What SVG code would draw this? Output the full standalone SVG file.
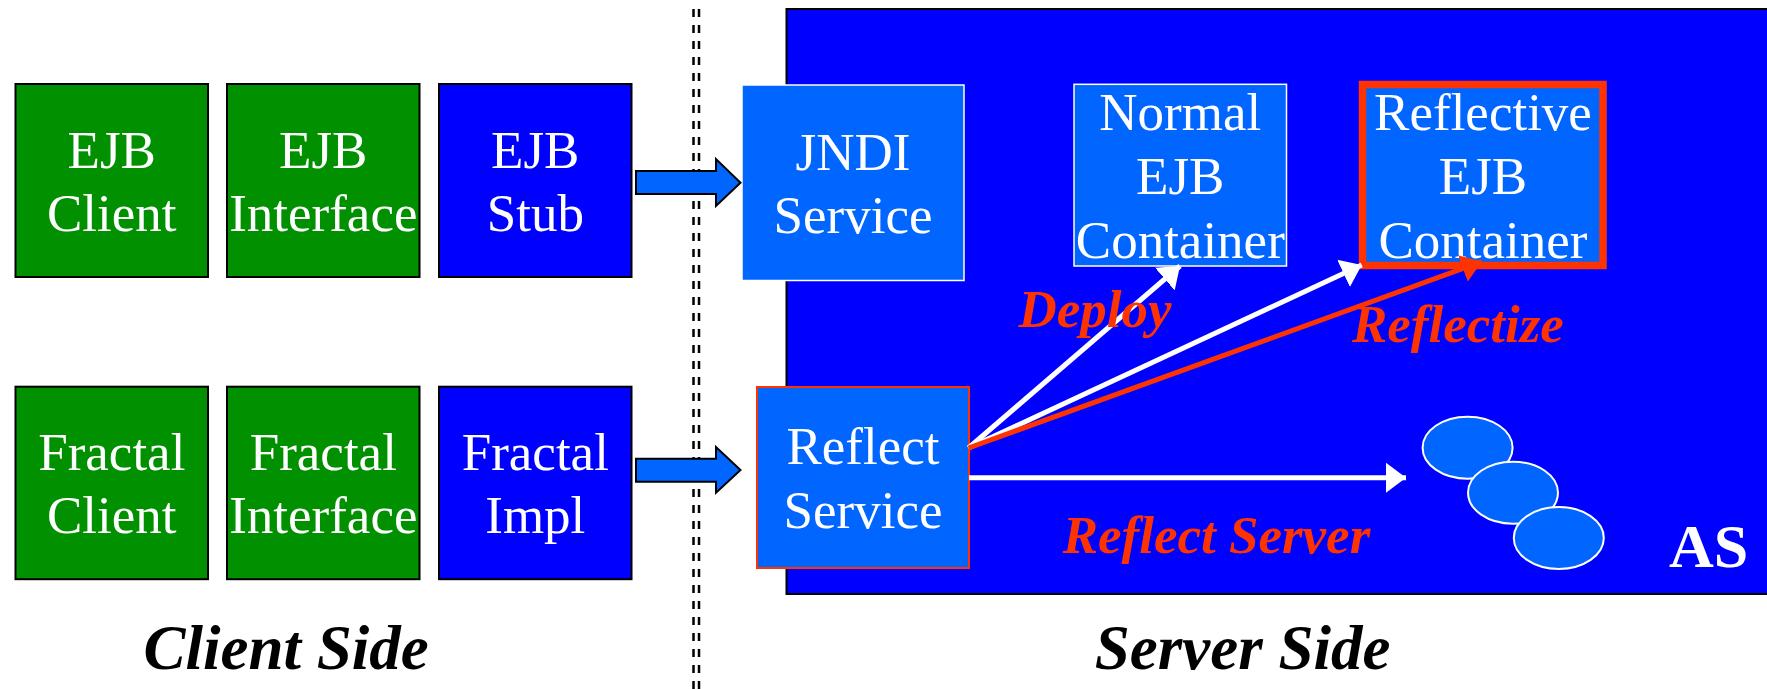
<svg xmlns="http://www.w3.org/2000/svg" width="1767" height="689" viewBox="0 0 1767 689">
  <style>
    .green { fill: #009000; stroke: #000; stroke-width: 2; }
    .blue { fill: #0000FF; stroke: #000; stroke-width: 2; }
    .light { fill: #0066FF; stroke: #FFFFFF; stroke-width: 1.5; }
    .lbl { font-family: "Liberation Serif", "Times New Roman", serif; font-size: 53px; fill: #FFFFFF; text-anchor: middle; }
    .tag { font-family: "Liberation Serif", "Times New Roman", serif; font-size: 53px; font-weight: bold; font-style: italic; fill: #FF3300; }
    .side { font-family: "Liberation Serif", "Times New Roman", serif; font-size: 63px; font-weight: bold; font-style: italic; fill: #000; }
    .wline { stroke: #FFFFFF; stroke-width: 5; fill: none; }
    .rline { stroke: #FF3300; stroke-width: 5; fill: none; }
    .block { fill: #0066FF; stroke: #000; stroke-width: 2; stroke-linejoin: miter; }
  </style>
  <defs>
    <marker id="headW" markerUnits="userSpaceOnUse" markerWidth="22" markerHeight="32" viewBox="0 -16 22 32" refX="20" refY="0" orient="auto">
      <path d="M0,-15 L20,0 L0,15 Z" fill="#FFFFFF"/>
    </marker>
    <marker id="headR" markerUnits="userSpaceOnUse" markerWidth="22" markerHeight="32" viewBox="0 -16 22 32" refX="20" refY="0" orient="auto">
      <path d="M0,-14 L20,0 L0,14 Z" fill="#FF3300"/>
    </marker>
  </defs>

  <!-- client / server divider -->
  <g id="divider" stroke="#000" stroke-width="2.5" stroke-dasharray="8 8">
    <line x1="693.5" y1="9" x2="693.5" y2="689"/>
    <line x1="699" y1="9" x2="699" y2="689"/>
  </g>

  <!-- application server area -->
  <g id="as">
    <rect x="786.5" y="9" width="990" height="585" class="blue"/>
    <text x="1669" y="567" font-family="Liberation Serif, Times New Roman, serif" font-size="62" font-weight="bold" fill="#FFFFFF">AS</text>
  </g>

  <!-- client side -->
  <g id="ejb-client">
    <rect x="15.5" y="84" width="192.5" height="193" class="green"/>
    <text class="lbl" x="111.8"><tspan x="111.8" y="167.7">EJB</tspan><tspan x="111.8" y="231">Client</tspan></text>
  </g>
  <g id="ejb-interface">
    <rect x="227" y="84" width="192.5" height="193" class="green"/>
    <text class="lbl" x="323.3"><tspan x="323.3" y="167.7">EJB</tspan><tspan x="323.3" y="231">Interface</tspan></text>
  </g>
  <g id="ejb-stub">
    <rect x="439" y="84" width="192.5" height="193" class="blue"/>
    <text class="lbl" x="535.3"><tspan x="535.3" y="167.7">EJB</tspan><tspan x="535.3" y="231">Stub</tspan></text>
  </g>
  <g id="fractal-client">
    <rect x="15.5" y="386.7" width="192.5" height="192.5" class="green"/>
    <text class="lbl" x="111.8"><tspan x="111.8" y="470">Fractal</tspan><tspan x="111.8" y="533.3">Client</tspan></text>
  </g>
  <g id="fractal-interface">
    <rect x="227" y="386.7" width="192.5" height="192.5" class="green"/>
    <text class="lbl" x="323.3"><tspan x="323.3" y="470">Fractal</tspan><tspan x="323.3" y="533.3">Interface</tspan></text>
  </g>
  <g id="fractal-impl">
    <rect x="439" y="386.7" width="192.5" height="192.5" class="blue"/>
    <text class="lbl" x="535.3"><tspan x="535.3" y="470">Fractal</tspan><tspan x="535.3" y="533.3">Impl</tspan></text>
  </g>

  <!-- server side -->
  <g id="jndi-service">
    <rect x="742" y="85" width="222" height="195.5" class="light"/>
    <text class="lbl" x="853"><tspan x="853" y="170">JNDI</tspan><tspan x="853" y="233">Service</tspan></text>
  </g>
  <g id="normal-container">
    <rect x="1074" y="84.3" width="212.5" height="181.7" class="light"/>
    <text class="lbl" x="1180.3"><tspan x="1180.3" y="130">Normal</tspan><tspan x="1180.3" y="194">EJB</tspan><tspan x="1180.3" y="258">Container</tspan></text>
  </g>
  <g id="reflective-container">
    <rect x="1362.5" y="84.5" width="240.5" height="181" fill="#0066FF" stroke="#FF3300" stroke-width="7.5"/>
    <text class="lbl" x="1483"><tspan x="1483" y="130">Reflective</tspan><tspan x="1483" y="194">EJB</tspan><tspan x="1483" y="258">Container</tspan></text>
  </g>
  <g id="reflect-service">
    <rect x="757" y="387" width="212" height="181" fill="#0066FF" stroke="#FF3300" stroke-width="2"/>
    <text class="lbl" x="863"><tspan x="863" y="464">Reflect</tspan><tspan x="863" y="528.3">Service</tspan></text>
  </g>
  <g id="server-instances" fill="#0066FF" stroke="#FFFFFF" stroke-width="2">
    <ellipse cx="1467.6" cy="447.7" rx="45" ry="31"/>
    <ellipse cx="1513" cy="492.7" rx="45" ry="31"/>
    <ellipse cx="1558.8" cy="538" rx="45" ry="31"/>
  </g>

  <!-- connectors -->
  <g id="connectors">
    <path class="block" d="M636,171 L716,171 L716,159 L740.5,182.7 L716,206 L716,194 L636,194 Z"/>
    <path class="block" d="M636,458.7 L716,458.7 L716,447 L740.5,470 L716,492.7 L716,481.7 L636,481.7 Z"/>
    <line class="wline" x1="968.5" y1="448" x2="1180" y2="266" marker-end="url(#headW)"/>
    <line class="wline" x1="968.5" y1="448" x2="1361.7" y2="265" marker-end="url(#headW)"/>
    <line class="rline" x1="968.5" y1="448" x2="1481.7" y2="261.7" marker-end="url(#headR)"/>
    <line class="wline" x1="969" y1="477.7" x2="1406" y2="477.7" marker-end="url(#headW)"/>
  </g>

  <!-- labels -->
  <g id="labels">
    <text class="tag" x="1018.5" y="326.7">Deploy</text>
    <text class="tag" x="1352" y="341.7">Reflectize</text>
    <text class="tag" x="1062.7" y="553">Reflect Server</text>
    <text class="side" x="143.5" y="669">Client Side</text>
    <text class="side" x="1094.7" y="669">Server Side</text>
  </g>
</svg>
